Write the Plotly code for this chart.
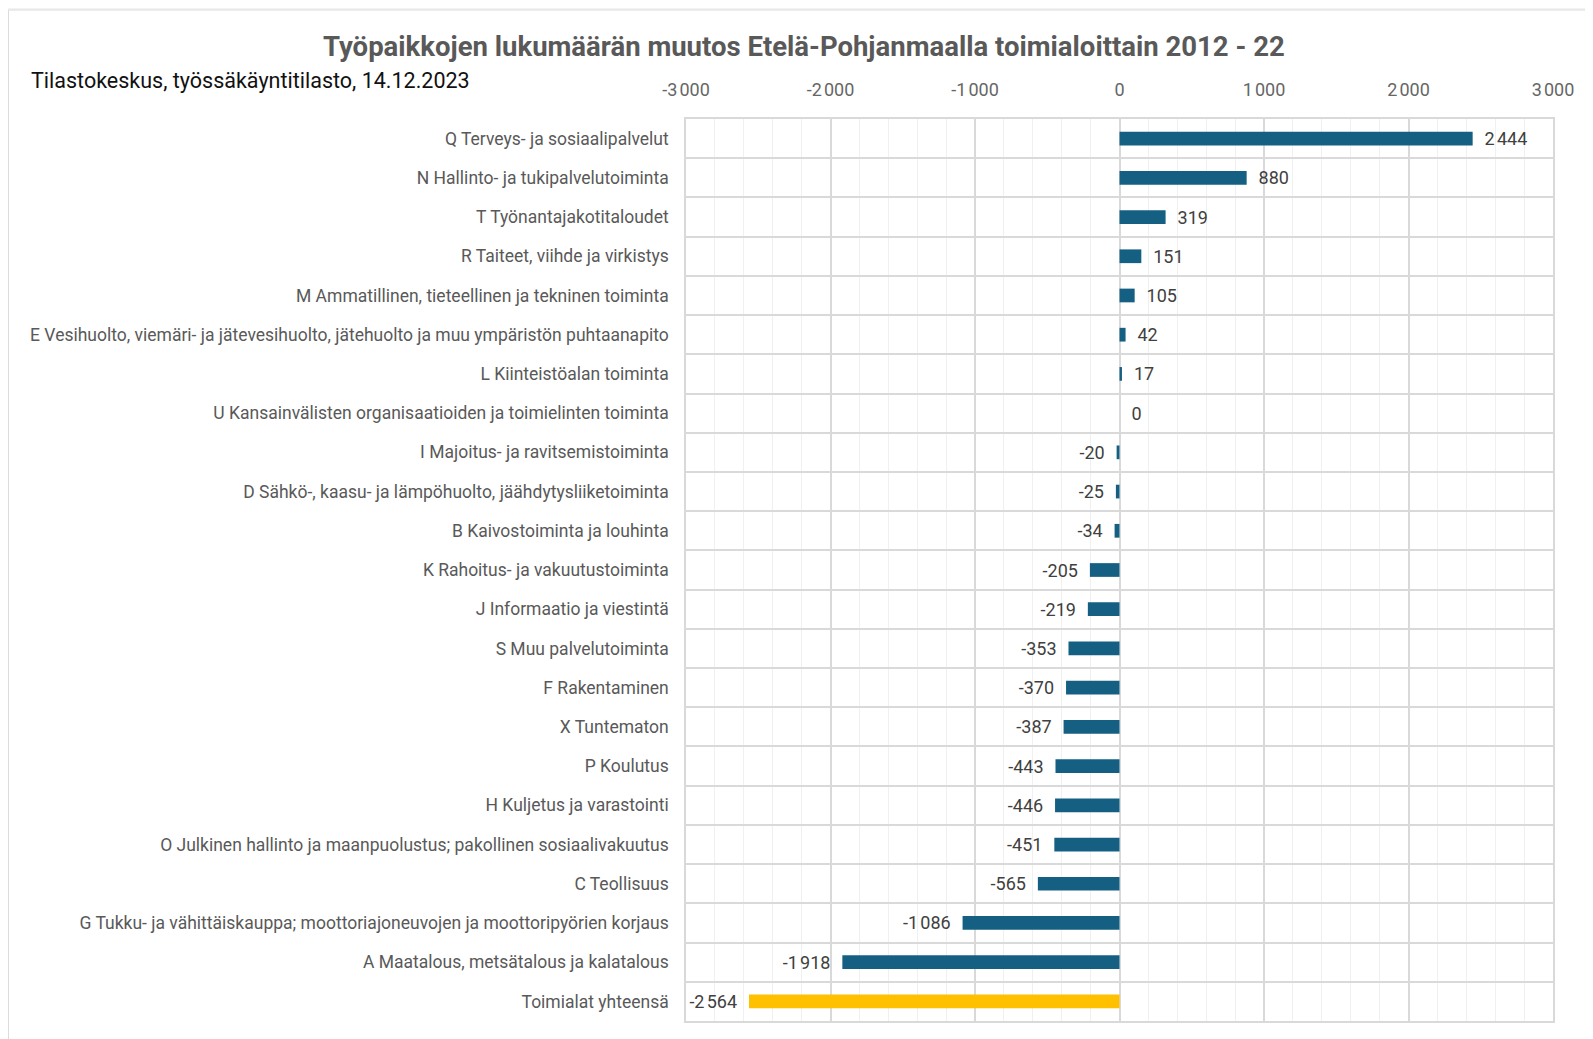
import plotly.graph_objects as go

categories = [
    "Q Terveys- ja sosiaalipalvelut",
    "N Hallinto- ja tukipalvelutoiminta",
    "T Työnantajakotitaloudet",
    "R Taiteet, viihde ja virkistys",
    "M Ammatillinen, tieteellinen ja tekninen toiminta",
    "E Vesihuolto, viemäri- ja jätevesihuolto, jätehuolto ja muu ympäristön puhtaanapito",
    "L Kiinteistöalan toiminta",
    "U Kansainvälisten organisaatioiden ja toimielinten toiminta",
    "I Majoitus- ja ravitsemistoiminta",
    "D Sähkö-, kaasu- ja lämpöhuolto, jäähdytysliiketoiminta",
    "B Kaivostoiminta ja louhinta",
    "K Rahoitus- ja vakuutustoiminta",
    "J Informaatio ja viestintä",
    "S Muu palvelutoiminta",
    "F Rakentaminen",
    "X Tuntematon",
    "P Koulutus",
    "H Kuljetus ja varastointi",
    "O Julkinen hallinto ja maanpuolustus; pakollinen sosiaalivakuutus",
    "C Teollisuus",
    "G Tukku- ja vähittäiskauppa; moottoriajoneuvojen ja moottoripyörien korjaus",
    "A Maatalous, metsätalous ja kalatalous",
    "Toimialat yhteensä",
]
values = [2444, 880, 319, 151, 105, 42, 17, 0, -20, -25, -34, -205, -219,
          -353, -370, -387, -443, -446, -451, -565, -1086, -1918, -2564]
tick_values = [-3000, -2000, -1000, 0, 1000, 2000, 3000]
tick_labels = ["-3\u202f000", "-2\u202f000", "-1\u202f000", "0", "1\u202f000", "2\u202f000", "3\u202f000"]

TITLE = "Työpaikkojen lukumäärän muutos Etelä-Pohjanmaalla toimialoittain 2012 - 22"
SUBTITLE = "Tilastokeskus, työssäkäyntitilasto, 14.12.2023"

BLUE = "#156082"
GOLD = "#FFC000"
FONT = "Roboto, 'Liberation Sans', sans-serif"


def fmt(v):
    s = f"{abs(v):,}".replace(",", "\u202f")
    return ("-" + s + "  ") if v < 0 else ("  " + s)


colors = [GOLD if c == "Toimialat yhteensä" else BLUE for c in categories]
texts = [fmt(v) for v in values]

fig = go.Figure(
    go.Bar(
        x=values,
        y=categories,
        orientation="h",
        marker=dict(color=colors, line=dict(width=0)),
        width=0.35,
        text=texts,
        textposition="outside",
        constraintext="none",
        cliponaxis=False,
        textfont=dict(family=FONT, size=18, color="#404040"),
        hoverinfo="x+y",
    )
)

# the page adds an 8px body margin, so figure coords = page coords - 8
OFF = 8
W, H = 1593, 1039
L, T = 686 - OFF, 119 - OFF
pw, ph = 867, 902
R = W - L - pw
B = H - T - ph


def px_x(p):  # page px -> paper
    return (p - OFF - L) / pw


def px_y(p):
    return (T + ph - (p - OFF)) / ph


# page background strip and card border
fig.add_shape(type="rect", xref="paper", yref="paper", layer="below",
              x0=px_x(-20), x1=px_x(W + 20), y0=px_y(10), y1=px_y(-20),
              fillcolor="#F4F3F1", line=dict(width=0))
fig.add_shape(type="rect", xref="paper", yref="paper", layer="below",
              x0=px_x(8.5), x1=px_x(W + 40), y0=px_y(H + 40), y1=px_y(10),
              fillcolor="rgba(0,0,0,0)", line=dict(width=1, color="#DCDCDC"))

fig.update_layout(
    width=W,
    height=H,
    margin=dict(l=L, r=R, t=T, b=B, autoexpand=False),
    paper_bgcolor="white",
    plot_bgcolor="white",
    showlegend=False,
    bargap=0.65,
    font=dict(family=FONT, color="#595959"),
    annotations=[
        dict(text="<b>" + TITLE + "</b>", xref="paper", yref="paper",
             x=px_x(804), y=px_y(46), xanchor="center", yanchor="middle",
             showarrow=False, font=dict(size=27.5, color="#595959", family=FONT)),
        dict(text=SUBTITLE, xref="paper", yref="paper",
             x=px_x(29), y=px_y(80), xanchor="left", yanchor="middle",
             showarrow=False, font=dict(size=21.5, color="#111111", family=FONT)),
    ],
)

fig.update_xaxes(
    side="top",
    range=[-3000, 3000],
    tickvals=tick_values,
    ticktext=tick_labels,
    tickfont=dict(size=18, color="#666666", family=FONT),
    ticks="",
    ticklabelstandoff=14,
    showgrid=True,
    gridcolor="#D9D9D9",
    gridwidth=1.5,
    zeroline=False,
    minor=dict(dtick=200, tick0=0, showgrid=True, gridcolor="#F0F0F0", gridwidth=1),
    showline=True,
    mirror=True,
    linecolor="#D9D9D9",
    linewidth=1.5,
    fixedrange=True,
)

fig.update_yaxes(
    type="category",
    categoryorder="array",
    categoryarray=categories,
    autorange="reversed",
    tickson="boundaries",
    ticks="",
    ticklabelstandoff=12,
    tickfont=dict(size=17.5, color="#595959", family=FONT),
    showgrid=True,
    gridcolor="#D9D9D9",
    gridwidth=1.5,
    showline=True,
    mirror=True,
    linecolor="#D9D9D9",
    linewidth=1.5,
    fixedrange=True,
)

fig.write_html("out.html")
